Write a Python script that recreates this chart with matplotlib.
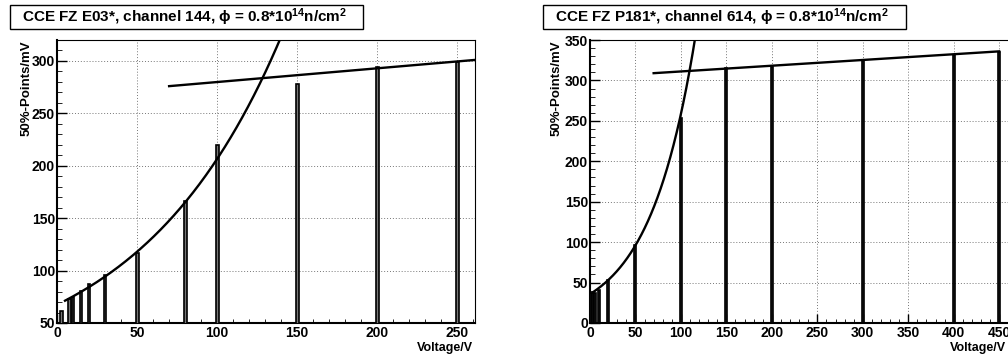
import numpy as np
import matplotlib
matplotlib.use("Agg")
import matplotlib.pyplot as plt
from matplotlib.patches import Rectangle
from matplotlib.ticker import MultipleLocator

plt.rcParams['font.family'] = ['Liberation Sans', 'DejaVu Sans']
plt.rcParams['font.weight'] = 'bold'
plt.rcParams['mathtext.fontset'] = 'custom'
plt.rcParams['mathtext.rm'] = 'Liberation Sans:bold'
plt.rcParams['mathtext.bf'] = 'Liberation Sans:bold'
plt.rcParams['mathtext.default'] = 'rm'

# ---- E03* channel 144 ----
e03_voltage = [3, 8, 10, 15, 20, 30, 50, 80, 100, 150, 200, 250]
e03_signal = [61, 73, 75, 81, 87, 96, 117, 166, 220, 278, 294, 299]
e03_exp_fit = (67.4, 0.0112, 5, 140)        # A, slope, x start, x end
e03_lin_fit = (266.8, 0.131, 70, 261)       # offset, slope, x start, x end

# ---- P181* channel 614 ----
p181_voltage = [1, 3, 5, 10, 20, 50, 100, 150, 200, 300, 400, 450]
p181_signal = [37, 37, 37, 41, 53, 96, 253, 315, 317, 325, 332, 335]
p181_exp_fit = (35.7, 0.0198, 3, 120)
p181_lin_fit = (304.0, 0.071, 70, 450)

W, H = 1008, 358
fig = plt.figure(figsize=(W / 100, H / 100), dpi=100)


def px(x0, y0, x1, y1):
    return [x0 / W, 1 - y1 / H, (x1 - x0) / W, (y1 - y0) / H]


def panel(rect, volts, sig, expf, linf, xlim, ylim, bar_w, bar_fc, ymaj, ymin):
    ax = fig.add_axes(rect)
    ax.set_xlim(*xlim)
    ax.set_ylim(*ylim)
    ax.grid(True, color='#777777', linestyle=(0, (1, 2)), linewidth=0.7)
    ax.set_axisbelow(True)
    ax.bar(volts, sig, width=bar_w, bottom=0, color=bar_fc,
           edgecolor='black', linewidth=1.2, zorder=3)
    a, b, xs, xe = expf
    xx = np.linspace(xs, xe, 300)
    ax.plot(xx, a * np.exp(b * xx), color='black', lw=1.7, zorder=4)
    c, m, ls, le = linf
    xl = np.array([ls, le])
    ax.plot(xl, c + m * xl, color='black', lw=1.7, zorder=4)
    ax.xaxis.set_major_locator(MultipleLocator(50))
    ax.xaxis.set_minor_locator(MultipleLocator(10))
    ax.yaxis.set_major_locator(MultipleLocator(ymaj))
    ax.yaxis.set_minor_locator(MultipleLocator(ymin))
    ax.tick_params(axis='both', which='major', direction='in', labelsize=10,
                   top=False, right=False, width=1.0)
    ax.tick_params(axis='x', which='major', length=6.5, pad=2.5)
    ax.tick_params(axis='y', which='major', length=7, pad=1.5)
    ax.tick_params(axis='x', which='minor', direction='in', length=3.2, top=False)
    ax.tick_params(axis='y', which='minor', direction='in', length=3.6, right=False)
    for lab in ax.get_xticklabels() + ax.get_yticklabels():
        lab.set_fontweight('bold')
    ax.spines['left'].set_linewidth(1.5)
    ax.spines['bottom'].set_linewidth(1.5)
    ax.spines['top'].set_linewidth(0.8)
    ax.spines['right'].set_linewidth(0.8)
    return ax


ax1 = panel(px(57, 40, 475, 323), e03_voltage, e03_signal, e03_exp_fit, e03_lin_fit,
            (0, 261), (50, 320), 1.8, '#777777', 50, 10)
ax2 = panel(px(590, 40, 1011, 323), p181_voltage, p181_signal, p181_exp_fit, p181_lin_fit,
            (0, 463), (0, 350), 2.2, '#333333', 50, 10)


def title_box(x0, x1, text, tx):
    fig.patches.append(Rectangle((x0 / W, 1 - 29 / H), (x1 - x0) / W, 24 / H,
                                 transform=fig.transFigure, facecolor='white',
                                 edgecolor='black', linewidth=1.0))
    fig.text(tx / W, 1 - 17.5 / H, text, ha='left', va='center',
             fontsize=11, fontweight='bold')


title_box(10, 363, r"CCE FZ E03*, channel 144, ϕ = 0.8*10$^{14}$n/cm$^{2}$", 22)
title_box(543, 906, r"CCE FZ P181*, channel 614, ϕ = 0.8*10$^{14}$n/cm$^{2}$", 555)

for xc in (27, 557):
    fig.text(xc / W, 1 - 40 / H, "50%-Points/mV", rotation=90, ha='center', va='top',
             fontsize=9.5, fontweight='bold')

for xr in (473, 1006):
    fig.text(xr / W, 1 - 348 / H, "Voltage/V", ha='right', va='center',
             fontsize=9, fontweight='bold')

fig.savefig("out.png", dpi=100)
